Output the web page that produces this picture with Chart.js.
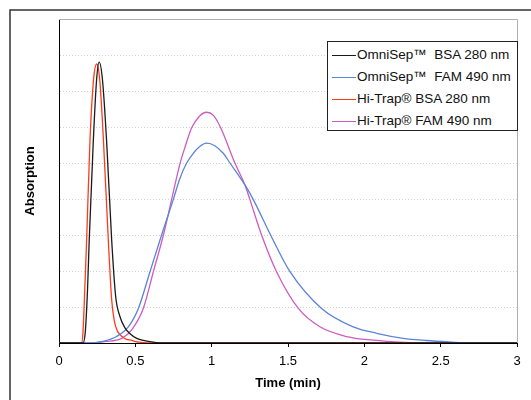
<!DOCTYPE html>
<html lang="en">
<head>
    <meta charset="UTF-8">
    <title>Absorption vs Time</title>
    <script src="https://cdn.jsdelivr.net/npm/chart.js"></script>
    <style>
        body { margin: 0; background: #fff; font-family: "Liberation Sans", Arial, sans-serif; }
        #wrap { position: relative; width: 531px; height: 400px; }
        #legend {
            position: absolute; left: 327px; top: 41px; width: 189px; height: 88px;
            border: 1px solid #222; background: #fff; font-size: 13.5px; color: #111;
        }
        .row { position: absolute; left: 4px; height: 16px; line-height: 16px; white-space: nowrap; }
        .row i { display: inline-block; width: 24px; height: 0; border-top: 1.5px solid; vertical-align: middle; margin-right: 1px; }
    </style>
</head>
<body>
    <div id="wrap">
        <canvas id="chart" width="531" height="400"></canvas>
        <div id="legend"></div>
    </div>

    <script>
        // OmniSep BSA 280 nm
        const omniBsaT = [0, 0.157, 0.172, 0.187, 0.198, 0.225, 0.246, 0.263, 0.285, 0.312, 0.345, 0.371, 0.398, 0.432, 0.467, 0.509, 0.552, 0.609, 0.688, 3];
        const omniBsaV = [0, 0, 0.3, 1.5, 2.86, 5.64, 7.3, 7.8, 7.3, 5.6, 2.86, 1.3, 0.75, 0.42, 0.25, 0.13, 0.07, 0.03, 0, 0];

        // OmniSep FAM 490 nm
        const omniFamT = [0, 0.216, 0.295, 0.377, 0.454, 0.52, 0.596, 0.672, 0.749, 0.79, 0.836, 0.88, 0.92, 0.967, 1.02, 1.076, 1.12, 1.218, 1.272, 1.386, 1.513, 1.72, 1.927, 2.081, 2.255, 2.407, 2.554, 2.701, 3];
        const omniFamV = [0, 0, 0.05, 0.18, 0.45, 0.96, 1.98, 3.0, 3.99, 4.55, 5.0, 5.27, 5.45, 5.55, 5.48, 5.27, 5.0, 4.39, 3.99, 3.0, 1.98, 0.96, 0.45, 0.27, 0.13, 0.07, 0.03, 0, 0];

        // Hi-Trap BSA 280 nm
        const hiBsaT = [0, 0.147, 0.157, 0.169, 0.181, 0.203, 0.226, 0.247, 0.267, 0.291, 0.323, 0.345, 0.363, 0.383, 0.413, 0.442, 0.472, 0.501, 0.55, 0.609, 3];
        const hiBsaV = [0, 0, 0.3, 1.5, 2.86, 5.64, 7.3, 7.75, 7.3, 5.64, 2.86, 1.2, 0.6, 0.33, 0.18, 0.1, 0.08, 0.04, 0.01, 0, 0];

        // Hi-Trap FAM 490 nm
        const hiFamT = [0, 0.216, 0.295, 0.411, 0.475, 0.552, 0.618, 0.684, 0.738, 0.793, 0.83, 0.869, 0.92, 0.967, 1.01, 1.059, 1.153, 1.218, 1.25, 1.327, 1.425, 1.568, 1.709, 1.884, 2.059, 2.259, 2.407, 3];
        const hiFamV = [0, 0, 0.04, 0.13, 0.36, 0.96, 1.98, 3.0, 3.99, 4.99, 5.5, 5.98, 6.3, 6.41, 6.33, 5.98, 4.99, 4.39, 3.99, 3.0, 1.98, 0.96, 0.45, 0.18, 0.08, 0.02, 0, 0];

        const seriesNames = ['OmniSep\u2122\u00a0 BSA 280 nm', 'OmniSep\u2122\u00a0 FAM 490 nm', 'Hi-Trap\u00ae BSA 280 nm', 'Hi-Trap\u00ae FAM 490 nm'];
        const seriesColors = ['#1a1a1a', '#5a84d8', '#ff3b1a', '#cc5cc0'];
        const seriesT = [omniBsaT, omniFamT, hiBsaT, hiFamT];
        const seriesV = [omniBsaV, omniFamV, hiBsaV, hiFamV];

        const xTicks = [0, 0.5, 1, 1.5, 2, 2.5, 3];

        const datasets = seriesNames.map((name, i) => ({
            label: name,
            data: seriesT[i].map((t, j) => ({ x: t, y: seriesV[i][j] })),
            borderColor: seriesColors[i],
            borderWidth: 1.3,
            pointRadius: 0,
            fill: false,
            cubicInterpolationMode: 'monotone'
        }));

        // outer frame and the light grey top/right edges of the plot
        const frame = {
            id: 'frame',
            beforeDraw(chart) {
                const c = chart.ctx;
                c.save();
                c.fillStyle = '#fff';
                c.fillRect(0, 0, chart.width, chart.height);
                c.strokeStyle = '#333';
                c.lineWidth = 1.5;
                c.strokeRect(10, 10, 700, 700);
                c.restore();
            },
            beforeDatasetsDraw(chart) {
                const a = chart.chartArea;
                const c = chart.ctx;
                c.save();
                c.strokeStyle = '#b0b0b0';
                c.lineWidth = 1;
                c.beginPath();
                c.moveTo(a.left, a.top + 0.5);
                c.lineTo(a.right + 0.5, a.top + 0.5);
                c.lineTo(a.right + 0.5, a.bottom);
                c.stroke();
                c.restore();
            }
        };

        const font = { family: '"Liberation Sans", Arial, sans-serif', size: 13 };

        new Chart(document.getElementById('chart'), {
            type: 'line',
            data: { datasets },
            plugins: [frame],
            options: {
                responsive: false,
                animation: false,
                layout: { padding: { left: 0, top: 19, right: 14, bottom: 0 } },
                plugins: { legend: { display: false }, tooltip: { enabled: false } },
                scales: {
                    x: {
                        type: 'linear',
                        min: 0,
                        max: 3,
                        afterBuildTicks: s => { s.ticks = xTicks.map(v => ({ value: v })); },
                        afterFit: s => { s.height = 57; },
                        ticks: { color: '#000', font, padding: 7, maxRotation: 0, callback: v => String(v) },
                        grid: { drawOnChartArea: false, drawTicks: true, tickLength: 4, tickColor: '#000' },
                        border: { color: '#000', width: 1 },
                        title: {
                            display: true, text: 'Time (min)', color: '#000',
                            font: { ...font, weight: 'bold' }, padding: { top: 0, bottom: 9 }
                        }
                    },
                    y: {
                        min: 0,
                        max: 9,
                        afterFit: s => { s.width = 59; },
                        ticks: { display: false, stepSize: 1 },
                        grid: {
                            drawTicks: false,
                            color: ctx => (ctx.tick.value === 0 || ctx.tick.value === 9) ? 'rgba(0,0,0,0)' : '#d0d0d0'
                        },
                        border: { color: '#000', width: 1, dash: [1, 2] },
                        title: {
                            display: true, text: 'Absorption', color: '#000',
                            font: { ...font, weight: 'bold' }, padding: { top: 23, bottom: 0 }
                        }
                    }
                }
            }
        });

        // legend box inside the plot
        const legend = document.getElementById('legend');
        seriesNames.forEach((name, i) => {
            const row = document.createElement('div');
            row.className = 'row';
            row.style.top = (5 + i * 21.9) + 'px';
            const sw = document.createElement('i');
            sw.style.borderTopColor = seriesColors[i];
            row.appendChild(sw);
            row.appendChild(document.createTextNode(name));
            legend.appendChild(row);
        });
    </script>
</body>
</html>
